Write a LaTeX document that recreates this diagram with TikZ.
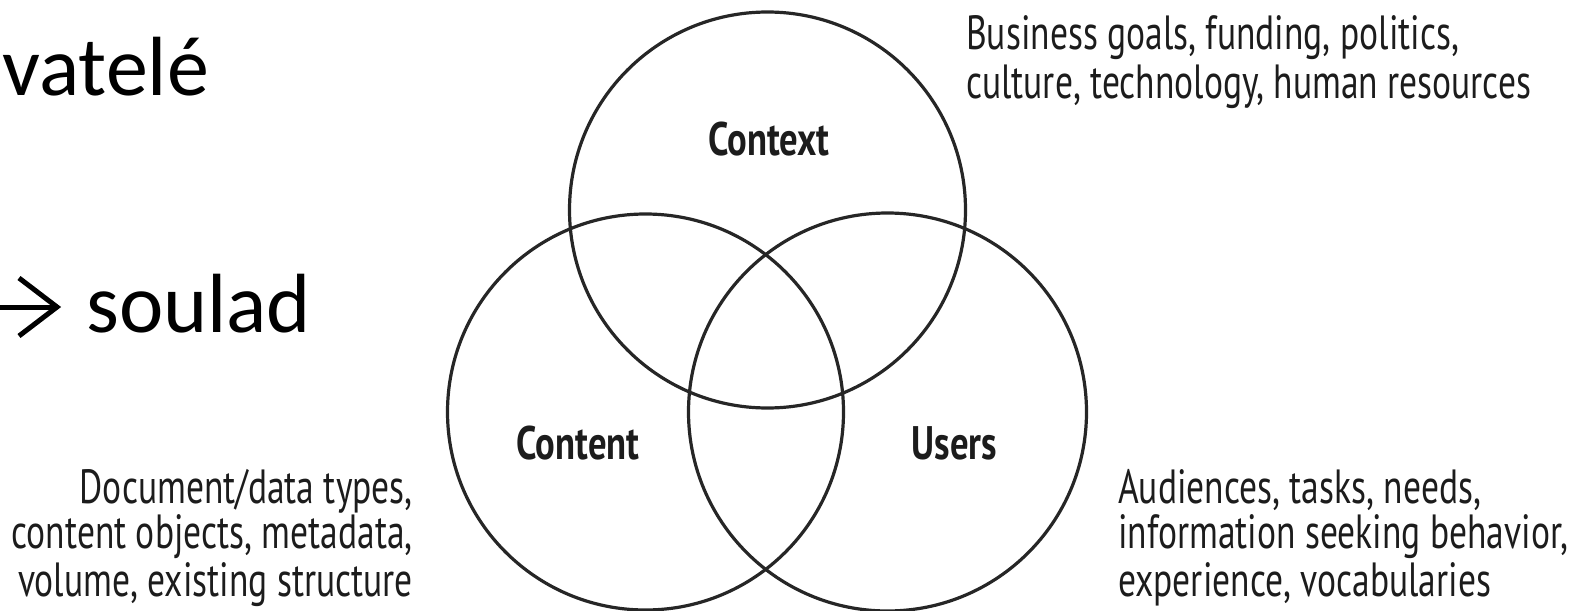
\documentclass[tikz,border=0pt]{standalone}
\usepackage{fontspec}
\setmainfont{Carlito}
\newfontfamily\descfont[FakeStretch=0.74]{PT Sans}
\newfontfamily\labfont[FakeStretch=0.78]{PT Sans}
\definecolor{ink}{HTML}{1C1C1C}
\definecolor{ring}{HTML}{262626}
\tikzset{
  venn/.style={draw=ring, line width=3.2pt},
  slidetext/.style={inner sep=0pt, text=black, font=\fontsize{84}{90}\selectfont},
  desc/.style={inner sep=0pt, text=ink, font=\descfont\fontsize{48}{47}\selectfont},
  setlabel/.style={inner sep=0pt, text=ink, font=\labfont\bfseries\fontsize{47}{47}\selectfont, anchor=base},
  arrowglyph/.style={line width=5pt, black, miter limit=10},
}
\begin{document}
\begin{tikzpicture}[x=1pt,y=-1pt]
\useasboundingbox (0,0) rectangle (1581,610);
% slide text on the left
\node[slidetext, anchor=base east] (vatele) at (209,95) {vatelé};
\coordinate (arrS) at (-4,307);
\coordinate (arrE) at (57,307);
\coordinate (arrT) at (19,278);
\coordinate (arrB) at (19,336);
\draw[arrowglyph] (arrS) -- (arrE);
\draw[arrowglyph] (arrT) -- (arrE) -- (arrB);
\node[slidetext, anchor=base west] (soulad) at (86,332) {soulad};
% Venn circles
\node[venn, circle, minimum size=396pt, inner sep=0pt] (context) at (767.5,210) {};
\node[venn, circle, minimum size=396pt, inner sep=0pt] (content) at (645.5,412) {};
\node[venn, circle, minimum size=398pt, inner sep=0pt] (users) at (887.5,412) {};
% labels
\node[setlabel] (lcontext) at (769,155) {Context};
\node[setlabel] (lcontent) at (578,459) {Content};
\node[setlabel] (lusers) at (954.5,459) {Users};
% descriptions
\node[desc, anchor=base west] (ctx1) at (966,50) {Business goals, funding, politics,};
\node[desc, anchor=base west] (ctx2) at (966,98) {culture, technology, human resources};
\node[desc, anchor=base east] (cnt1) at (413,503) {Document/data types,};
\node[desc, anchor=base east] (cnt2) at (413,548) {content objects, metadata,};
\node[desc, anchor=base east] (cnt3) at (413,596) {volume, existing structure};
\node[desc, anchor=base west] (usr1) at (1118,503) {Audiences, tasks, needs,};
\node[desc, anchor=base west] (usr2) at (1118,548) {information seeking behavior,};
\node[desc, anchor=base west] (usr3) at (1118,596) {experience, vocabularies};
\end{tikzpicture}
\end{document}
